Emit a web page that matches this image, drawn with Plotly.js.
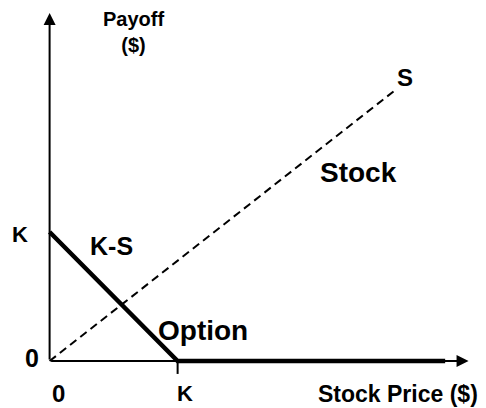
<!DOCTYPE html>
<html>
<head>
<meta charset="utf-8">
<script src="https://cdn.plot.ly/plotly-3.0.1.min.js"></script>
<style>html,body{margin:0;padding:0;background:#fff;}#chart{width:486px;height:408px;}</style>
</head>
<body>
<div id="chart"></div>
<script>
// Data (strike K = 1 unit)
const strike = 1;
const stockPrice = [0, 2.7];
const stockPayoff = [0, 2.1];
const optionPrice = [0, 1, 3.09];
const optionPayoff = [1, 0, 0];
const axisEndX = 3.273;
const axisEndY = 2.698;

const FONT = "Liberation Sans, Arial, Helvetica, sans-serif";

const traces = [
  {x: stockPrice, y: stockPayoff, mode: 'lines', line: {color: '#000', width: 2, dash: '8px,5px'}, hoverinfo: 'skip'},
  {x: [strike, strike], y: [0, -0.1], mode: 'lines', line: {color: '#000', width: 2}, hoverinfo: 'skip'},
  {x: optionPrice, y: optionPayoff, mode: 'lines', line: {color: '#000', width: 4.5}, hoverinfo: 'skip'}
];

function lab(text, x, y, size) {
  return {text: text, x: x, y: y, xref: 'x', yref: 'y', showarrow: false,
          xanchor: 'center', yanchor: 'middle',
          font: {family: FONT, size: size, color: '#000', weight: 'bold'}};
}

const annotations = [
  {x: 0, y: axisEndY, ax: 0, ay: 0, axref: 'x', ayref: 'y', xref: 'x', yref: 'y', text: '', showarrow: true, arrowhead: 2, arrowsize: 1.2, arrowwidth: 2, arrowcolor: '#000'},
  {x: axisEndX, y: 0, ax: 0, ay: 0, axref: 'x', ayref: 'y', xref: 'x', yref: 'y', text: '', showarrow: true, arrowhead: 2, arrowsize: 1.2, arrowwidth: 2, arrowcolor: '#000'},
  lab('Payoff<br>($)', 0.652, 2.547, 20),
  lab('K', -0.231, 0.977, 22),
  lab('K-S', 0.484, 0.891, 25),
  lab('S', 2.777, 2.198, 24),
  lab('Stock', 2.413, 1.465, 28),
  lab('Option', 1.198, 0.240, 28),
  lab('0', -0.134, 0.027, 25),
  lab('0', 0.073, -0.253, 24),
  lab('K', 1.054, -0.252, 22),
  lab('Stock Price ($)', 2.718, -0.256, 23)
];

const layout = {
  width: 486, height: 408,
  margin: {l: 0, r: 0, t: 0, b: 0},
  paper_bgcolor: '#fff', plot_bgcolor: '#fff',
  showlegend: false,
  xaxis: {range: [-0.3875, 3.409], visible: false, fixedrange: true},
  yaxis: {range: [-0.364, 2.798], visible: false, fixedrange: true},
  annotations: annotations
};

Plotly.newPlot('chart', traces, layout, {displayModeBar: false, staticPlot: true});
</script>
</body>
</html>
